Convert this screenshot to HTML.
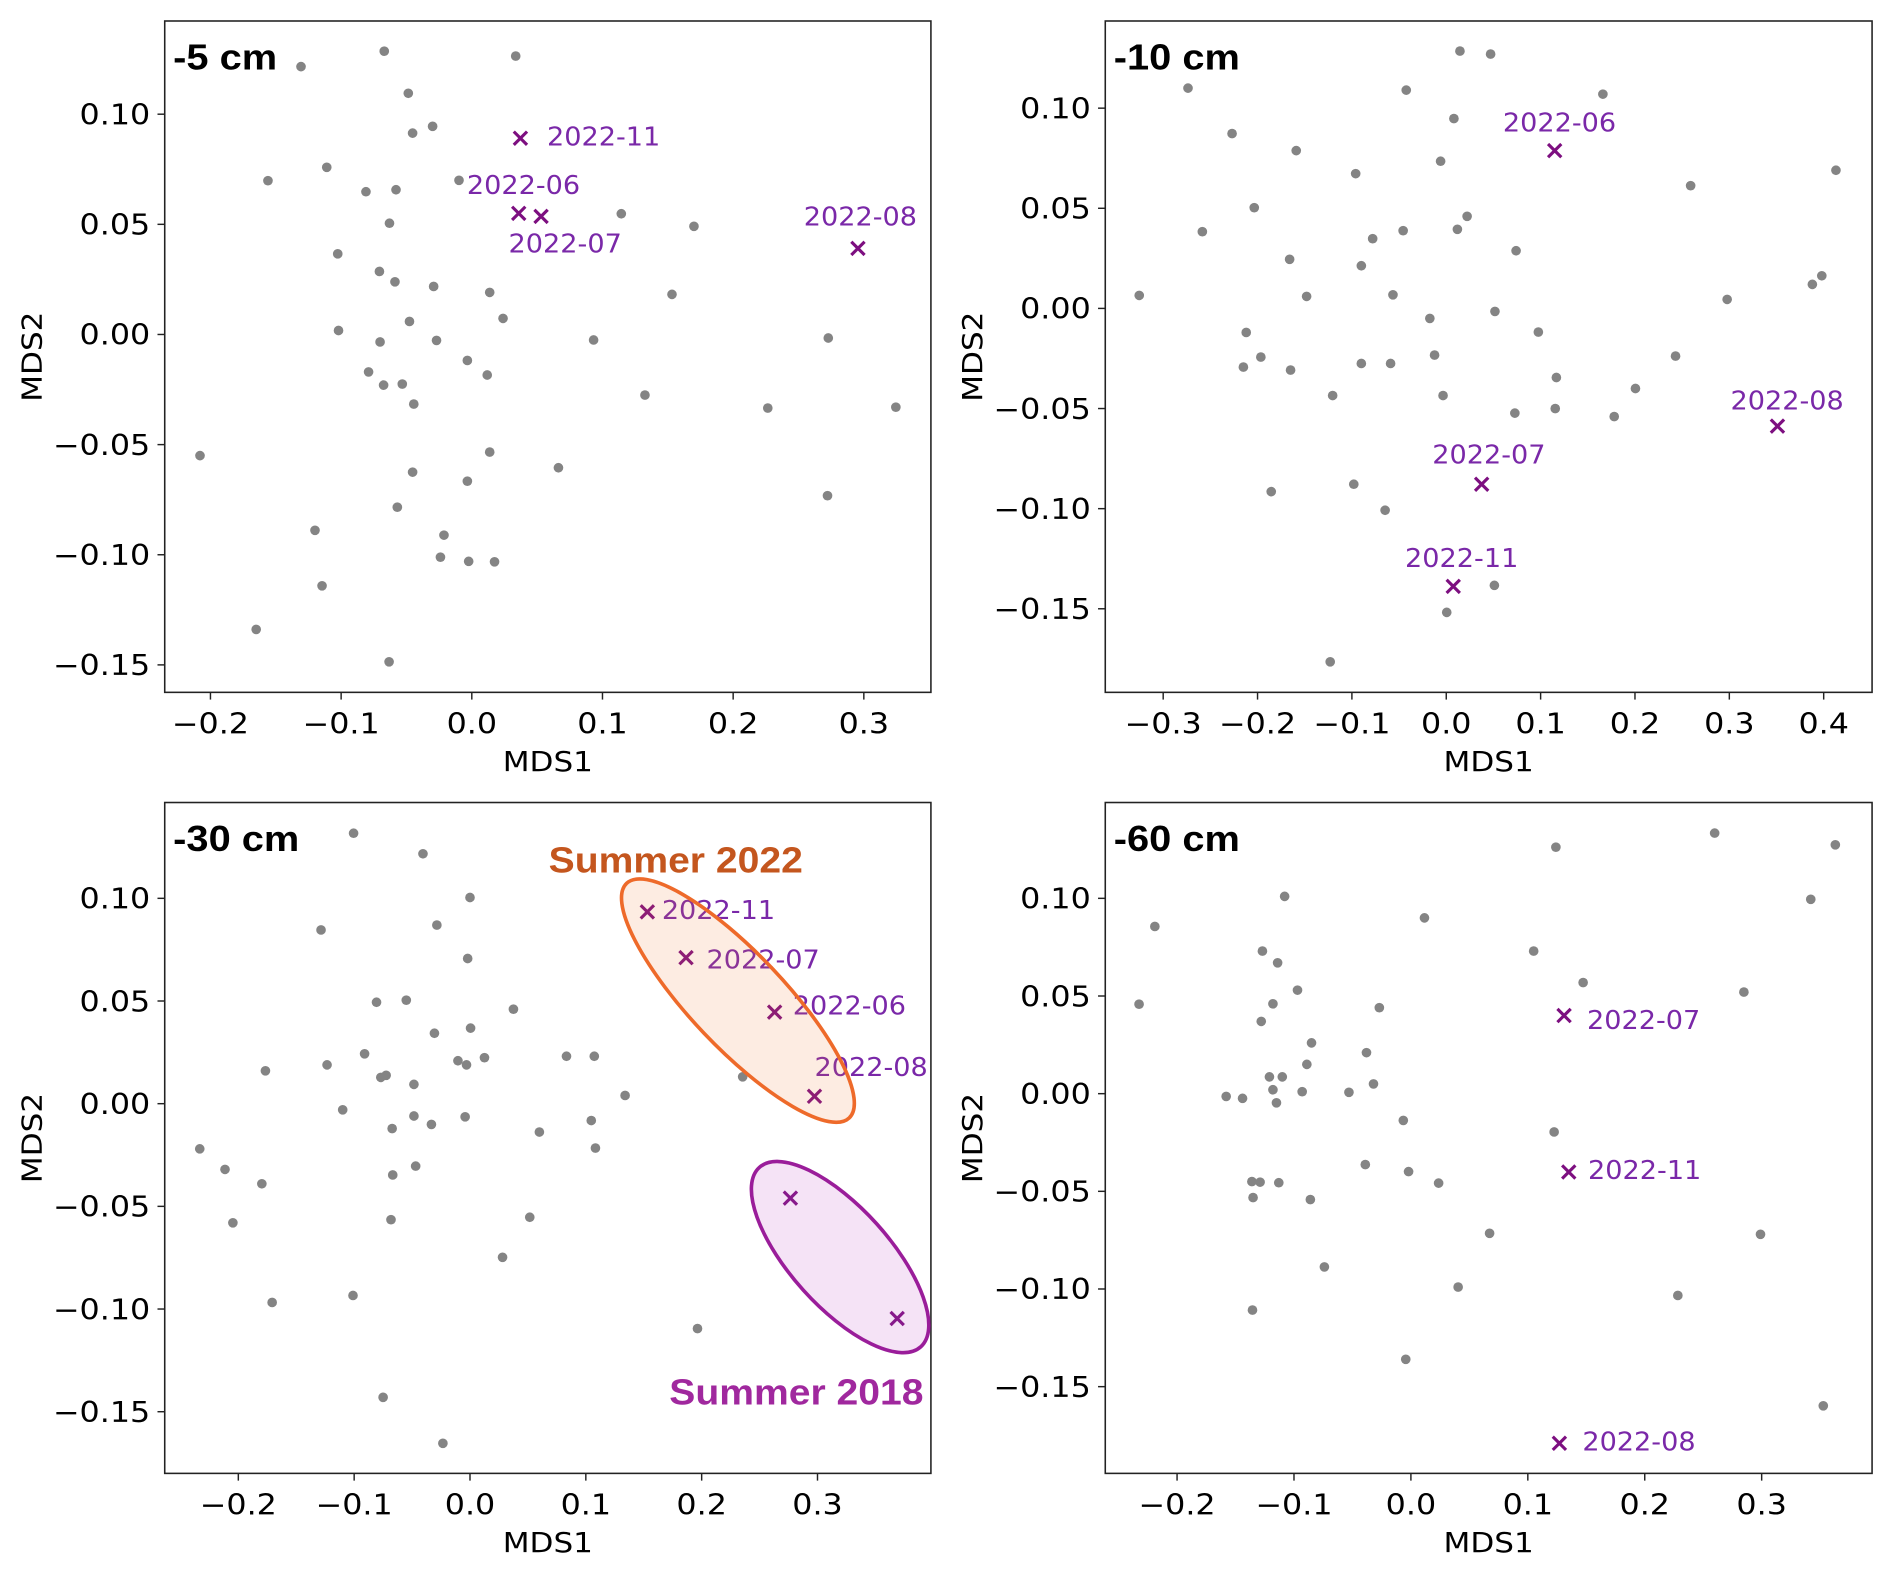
<!DOCTYPE html>
<html><head><meta charset="utf-8"><style>
html,body{margin:0;padding:0;background:#fff}
svg{display:block}
.tk{font-family:"DejaVu Sans","Liberation Sans",sans-serif;font-size:23.5px;fill:#000}
.ax{font-family:"DejaVu Sans","Liberation Sans",sans-serif;font-size:23px;fill:#000}
.lb{font-family:"DejaVu Sans","Liberation Sans",sans-serif;font-size:21px;fill:#7a28a8}
.ttl{font-family:"Liberation Sans",sans-serif;font-weight:bold;font-size:30px;fill:#000}
</style></head><body>
<svg id="fig" width="1892" height="1571" viewBox="0 0 1568 1302" xmlns="http://www.w3.org/2000/svg"></svg>
<script>
// ---- data: -5 cm
const p5x=[-0.067,0.0336,-0.1307,-0.0486,-0.030,-0.0453,-0.111,-0.156,-0.0098,-0.081,-0.058,-0.063,0.1144,0.170,-0.1026,-0.0707,-0.0588,-0.0292,0.0137,0.1532,0.0239,-0.0477,-0.102,-0.0702,-0.027,0.0932,0.2728,-0.0034,0.0118,-0.079,-0.0675,-0.0532,-0.0444,0.1325,0.2265,0.3245,-0.208,0.0137,-0.0453,0.0663,-0.0034,0.2722,-0.057,-0.120,-0.0213,-0.024,-0.0024,0.0174,-0.1146,-0.165,-0.0633];
const p5y=[0.1286,0.1264,0.1216,0.1095,0.0945,0.0914,0.0759,0.0698,0.070,0.0648,0.0657,0.0505,0.0548,0.0491,0.0366,0.0286,0.0239,0.0218,0.0191,0.0182,0.0073,0.0059,0.0018,-0.0034,-0.0027,-0.0025,-0.0016,-0.0118,-0.0184,-0.017,-0.023,-0.0225,-0.0316,-0.0275,-0.0334,-0.033,-0.055,-0.0534,-0.0625,-0.0605,-0.0666,-0.0732,-0.0784,-0.0889,-0.0911,-0.1011,-0.103,-0.1032,-0.1141,-0.1339,-0.1486];
const h5lab=["2022-11","2022-06","2022-07","2022-08"];
const h5x=[0.0372,0.0359,0.053,0.2955];
const h5y=[0.0891,0.055,0.0536,0.0391];
// ---- data: -10 cm
const p10x=[0.0145,0.047,-0.2737,-0.0424,0.166,0.0081,-0.227,-0.159,-0.006,-0.096,0.413,0.259,-0.2035,0.0221,-0.2585,-0.0457,0.0118,-0.078,0.074,-0.166,-0.090,0.398,0.388,-0.3254,-0.148,-0.0565,0.2977,0.0516,-0.0174,-0.212,0.0976,-0.0124,-0.1965,0.243,-0.215,-0.165,-0.090,-0.059,0.1167,0.2005,-0.1204,-0.0034,0.0727,0.1155,0.178,-0.098,-0.1855,-0.0648,0.051,0.0005,-0.123];
const p10y=[0.1285,0.127,0.110,0.109,0.107,0.0948,0.0873,0.0788,0.0735,0.0673,0.069,0.0613,0.0503,0.046,0.0383,0.0388,0.0395,0.0348,0.0288,0.0245,0.0213,0.0163,0.012,0.0065,0.006,0.0068,0.0045,-0.0015,-0.005,-0.012,-0.0118,-0.0233,-0.0243,-0.0238,-0.0293,-0.0308,-0.0275,-0.0275,-0.0345,-0.040,-0.0435,-0.0435,-0.0523,-0.050,-0.054,-0.0878,-0.0915,-0.1008,-0.1383,-0.1518,-0.1765];
const h10lab=["2022-06","2022-08","2022-07","2022-11"];
const h10x=[0.1149,0.351,0.0375,0.0074];
const h10y=[0.0788,-0.0588,-0.0878,-0.1388];
// ---- data: -30 cm
const p30x=[-0.1005,-0.0406,0.0,-0.1286,-0.0286,-0.002,-0.0807,-0.055,0.0375,-0.0307,0.0005,-0.091,-0.1234,-0.1766,-0.0104,-0.003,0.0125,0.0833,0.1073,-0.077,-0.0724,-0.0484,0.2354,0.1339,-0.1099,-0.0484,-0.0042,-0.0333,-0.0672,0.1047,0.0599,0.1083,-0.2333,-0.2115,-0.0667,-0.0469,-0.1797,-0.2047,-0.0682,0.0516,0.0281,-0.1708,-0.101,0.1964,-0.075,-0.0234];
const p30y=[0.1317,0.1217,0.1004,0.0846,0.087,0.0707,0.0494,0.0504,0.046,0.0343,0.0368,0.0243,0.0189,0.016,0.0209,0.0189,0.0224,0.0231,0.0231,0.0128,0.0138,0.0094,0.0131,0.004,-0.003,-0.006,-0.0064,-0.0101,-0.0121,-0.0082,-0.0138,-0.0216,-0.022,-0.032,-0.0347,-0.0304,-0.039,-0.058,-0.0565,-0.0553,-0.0748,-0.0968,-0.0934,-0.1095,-0.143,-0.1654];
const h30lab=["2022-11","2022-07","2022-06","2022-08","",""];
const h30x=[0.1531,0.1865,0.263,0.2974,0.2766,0.3688];
const h30y=[0.0934,0.0711,0.0446,0.0036,-0.046,-0.1046];
// ---- data: -60 cm
const p60x=[-0.2325,-0.219,-0.108,-0.127,-0.114,-0.097,-0.118,-0.128,-0.027,-0.085,-0.089,-0.038,-0.121,-0.110,-0.118,-0.093,-0.158,-0.144,-0.115,-0.053,-0.032,0.0116,-0.0065,0.1225,-0.039,-0.002,0.0237,-0.136,-0.129,-0.113,-0.135,-0.086,-0.074,0.0673,0.0404,-0.1355,-0.0044,0.2283,0.2990,0.3527,0.3630,0.342,0.2598,0.124,0.105,0.1473,0.2848];
const p60y=[0.0458,0.0856,0.101,0.073,0.067,0.053,0.046,0.037,0.044,0.026,0.015,0.021,0.0086,0.0086,0.002,0.001,-0.0014,-0.0024,-0.0047,0.0007,0.005,0.090,-0.0137,-0.0196,-0.0363,-0.0399,-0.0458,-0.045,-0.0453,-0.0456,-0.0532,-0.0542,-0.0887,-0.0715,-0.099,-0.1108,-0.136,-0.1033,-0.0720,-0.1598,0.1274,0.0995,0.1334,0.1262,0.073,0.0569,0.052];
const h60lab=["2022-07","2022-11","2022-08"];
const h60x=[0.131,0.135,0.127];
const h60y=[0.040,-0.0401,-0.179];
// ---- ticks
const xt5=[-0.2,-0.1,0.0,0.1,0.2,0.3];
const xt10=[-0.3,-0.2,-0.1,0.0,0.1,0.2,0.3,0.4];
const yt=[-0.15,-0.10,-0.05,0.00,0.05,0.10];

const NS="http://www.w3.org/2000/svg";
const svg=document.getElementById('fig');
function mk(tag,attrs,parent){const e=document.createElementNS(NS,tag);for(const k in attrs)e.setAttribute(k,attrs[k]);(parent||svg).appendChild(e);return e;}
function txt(x,y,sx,anchor,cls,parent,extra){
  const a={x:0,y:0,'text-anchor':anchor,transform:`translate(${x} ${y}) scale(${sx} 1)`};
  if(cls)a['class']=cls;
  if(extra)Object.assign(a,extra);
  return mk('text',a,parent);
}
function fmt(v,d){const s=Math.abs(v).toFixed(d);return (v<-1e-9?'\u2212':'')+s;}

function panel(cfg){
  const g=mk('g',{});
  
  
  const sx=v=>cfg.x0+v*cfg.kx, sy=v=>cfg.y0-v*cfg.ky;
  const f=mk('rect',{x:cfg.L,y:cfg.T,width:cfg.R-cfg.L,height:cfg.B-cfg.T,fill:'none',stroke:'#222','stroke-width':1.3},g);
  
  
  cfg.xt.forEach(v=>{
    mk('line',{x1:sx(v),x2:sx(v),y1:cfg.B,y2:cfg.B+6,stroke:'#222','stroke-width':1.2},g);
    const t=txt(sx(v),cfg.B+34,1.12,'middle','tk',g);
    t.textContent=fmt(v,1);
    
    
  });
  yt.forEach(v=>{
    mk('line',{x1:cfg.L-6,x2:cfg.L,y1:sy(v),y2:sy(v),stroke:'#222','stroke-width':1.2},g);
    const t=txt(cfg.L-12,sy(v)+8.5,1.12,'end','tk',g);
    t.textContent=fmt(v,2);
    
    
  });
  const xl=txt((cfg.L+cfg.R)/2,cfg.B+65,1.12,'middle','ax',g);
  xl.textContent='MDS1';
  
  
  const yc=(cfg.T+cfg.B)/2;
  const yl=mk('text',{x:0,y:0,'text-anchor':'middle',class:'ax',transform:`translate(${cfg.L-102} ${yc}) rotate(-90) scale(1.12 1)`},g);
  yl.textContent='MDS2';
  
  
  const tt=txt(cfg.L+7,cfg.T+40,1.1,'start','ttl',g);
  tt.textContent=cfg.title;
  
  
  cfg.px.forEach((v,i)=>{
    const c=mk('circle',{cx:sx(v),cy:sy(cfg.py[i]),r:4,fill:'#848484'},g);
    
    
  });
  cfg.hx.forEach((v,i)=>{
    const cx=sx(v),cy=sy(cfg.hy[i]),s=5.5;
    const p=mk('path',{d:`M${cx-s} ${cy-s}L${cx+s} ${cy+s}M${cx-s} ${cy+s}L${cx+s} ${cy-s}`,stroke:'#7d0f80','stroke-width':2.6,fill:'none'},g);
    
    
    if(cfg.hl[i]){
      const o=cfg.off[i];
      const t=txt(cx+o[0],cy+o[1],1.07,o[2],'lb',g);
      t.textContent=cfg.hl[i];
      
      
    }
  });
  return {g,sx,sy};
}

panel({name:'panel-5cm',title:'-5 cm',L:136.5,R:771.5,T:17.4,B:573.8,x0:391,kx:1083,y0:277.2,ky:1825.6,xt:xt5,
  px:p5x,py:p5y,hx:h5x,hy:h5y,hl:h5lab,off:[[22,6,'start'],[4,-16,'middle'],[20,30,'middle'],[2,-19,'middle']]});
panel({name:'panel-10cm',title:'-10 cm',L:916,R:1551.5,T:17.4,B:573.8,x0:1198.6,kx:782,y0:255.6,ky:1659.6,xt:xt10,
  px:p10x,py:p10y,hx:h10x,hy:h10y,hl:h10lab,off:[[4,-16,'middle'],[8,-14,'middle'],[6,-17,'middle'],[7,-16,'middle']]});
const P30=panel({name:'panel-30cm',title:'-30 cm',L:136.5,R:771.5,T:665.1,B:1221.1,x0:389.5,kx:960,y0:914.7,ky:1701.9,xt:xt5,
  px:p30x,py:p30y,hx:h30x,hy:h30y,hl:h30lab,off:[[12,6,'start'],[17,9,'start'],[15,2,'start'],[0,-17,'start'],[0,0,'start'],[0,0,'start']]});
panel({name:'panel-60cm',title:'-60 cm',L:916,R:1551.5,T:665.1,B:1221.1,x0:1169.3,kx:969,y0:906.4,ky:1618.8,xt:xt5,
  px:p60x,py:p60y,hx:h60x,hy:h60y,hl:h60lab,off:[[19,11,'start'],[16,6,'start'],[19,6,'start']]});

// group ellipses (annotations) on -30 cm panel
const c1x=P30.sx(0.2313),c1y=P30.sy(0.0502);
const e1=mk('ellipse',{cx:c1x,cy:c1y,rx:134,ry:39,transform:`rotate(46.5 ${c1x} ${c1y})`,fill:'rgba(240,120,50,0.14)',stroke:'#ee6a2a','stroke-width':3},P30.g);


const c2x=P30.sx(0.3195),c2y=P30.sy(-0.0747);
const e2=mk('ellipse',{cx:c2x,cy:c2y,rx:100,ry:41,transform:`rotate(48 ${c2x} ${c2y})`,fill:'rgba(190,80,200,0.16)',stroke:'#9a1d9a','stroke-width':3},P30.g);


const s1=txt(560,723,1.08,'middle',null,P30.g,{style:'font-family:"Liberation Sans",sans-serif;font-weight:bold;font-size:30px;fill:#c4561e'});
s1.textContent='Summer 2022';


const s2=txt(660,1164,1.08,'middle',null,P30.g,{style:'font-family:"Liberation Sans",sans-serif;font-weight:bold;font-size:30px;fill:#a0289e'});
s2.textContent='Summer 2018';


</script>
</body></html>
